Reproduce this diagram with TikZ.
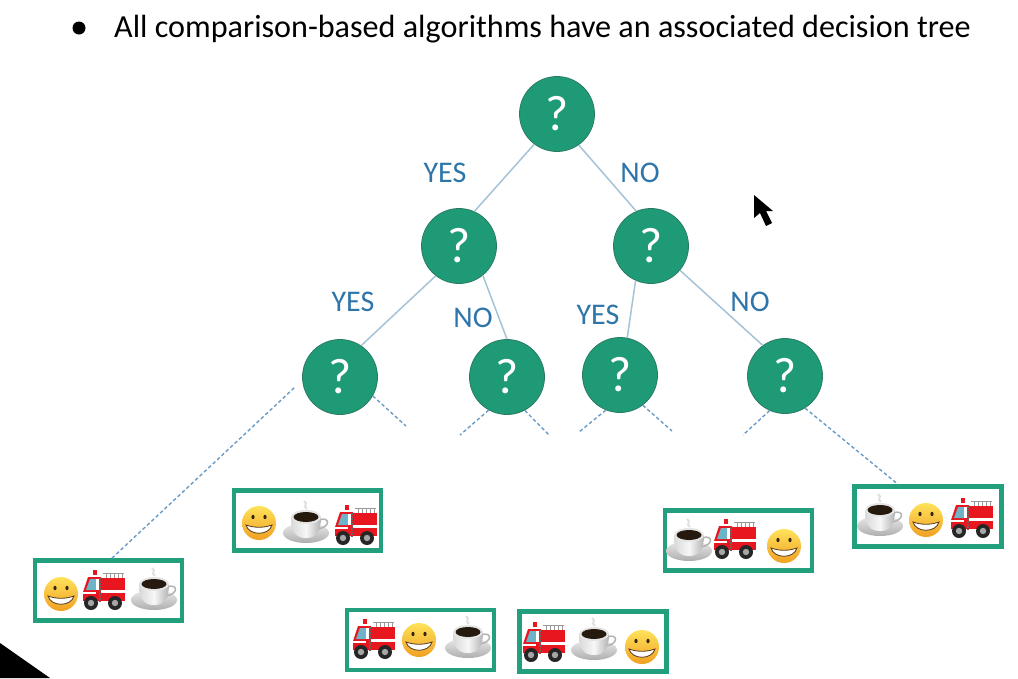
\documentclass[tikz,border=0pt]{standalone}
\usepackage{fontspec}
\setmainfont{Carlito}
\definecolor{nodegreen}{RGB}{30,155,118}
\definecolor{nodeedge}{RGB}{42,122,98}
\definecolor{boxgreen}{RGB}{34,160,125}
\definecolor{edgeblue}{RGB}{165,195,215}
\definecolor{stubblue}{RGB}{105,155,200}
\definecolor{labelblue}{RGB}{46,117,170}
\definecolor{truckred}{RGB}{232,22,30}
\definecolor{facetop}{RGB}{255,226,90}
\definecolor{facebottom}{RGB}{240,160,35}
\definecolor{cabglass}{RGB}{110,180,200}
\tikzset{
    question/.style={circle, draw=nodeedge, thick, fill=nodegreen, text=white, minimum size=75pt, inner sep=0pt, font=\fontsize{50}{50}\selectfont},
    answer/.style={font=\fontsize{30}{30}\selectfont, text=labelblue, inner sep=0pt},
    orderbox/.style={rectangle, draw=boxgreen, line width=4.5pt, minimum width=147pt, minimum height=60pt, inner sep=0pt},
    branch/.style={draw=edgeblue, line width=1.5pt},
    stub/.style={draw=stubblue, line width=1.4pt, dash pattern=on 3.5pt off 2.5pt},
    pics/smiley/.style={code={
        \shade[top color=facetop, bottom color=facebottom] (0,0) circle (17);
        \fill[black!70!brown] (-6,-6) ellipse [x radius=1.6, y radius=2.2];
        \fill[black!70!brown] (6,-6) ellipse [x radius=1.6, y radius=2.2];
        \draw[fill=white, draw=black!55!brown, line width=.8pt] (-13,2) .. controls (-5,5) and (5,5) .. (13,2) .. controls (10,13) and (-10,13) .. (-13,2) -- cycle;
    }},
    pics/firetruck/.style={code={
        \draw[black!40, line width=1pt] (-1,-17) -- (20,-17);
        \foreach \lx in {2,6,10,14,18} {\draw[black!40, line width=.8pt] (\lx,-17) -- (\lx,-12);}
        \fill[truckred] (-3,-12) -- (21,-12) -- (21,11) -- (-3,11) -- cycle;
        \fill[truckred] (-21,2) -- (-16,-13) -- (-3,-13) -- (-3,11) -- (-21,11) -- cycle;
        \fill[cabglass] (-18,0) -- (-14,-11) -- (-8,-11) -- (-8,0) -- cycle;
        \fill[white] (-8,-11) rectangle (-5,0);
        \fill[white] (-3,0) rectangle (21,3);
        \fill[white] (-21,2) rectangle (-8,4);
        \fill[truckred] (-11,-20) rectangle (-7,-15);
        \draw[black!60, line width=2pt, dash pattern=on 1.5pt off 1pt] (-4,-12) -- (-4,12);
        \foreach \wx in {-13,11} {
            \fill[black!85] (\wx,13) circle (7);
            \fill[black!35] (\wx,13) circle (3.2);
        }
    }},
    pics/coffee/.style={code={
        \shade[top color=black!8, bottom color=black!32] (0,11) ellipse [x radius=23, y radius=10];
        \draw[black!30, line width=1.5pt] (13,-2) .. controls (24,-6) and (25,5) .. (12,7);
        \shade[left color=black!15, right color=black!30, middle color=black!3] (-15,-5) .. controls (-15,10) and (-10,16) .. (0,16) .. controls (10,16) and (15,10) .. (15,-5) -- cycle;
        \fill[black!10] (0,-5) ellipse [x radius=15, y radius=7];
        \fill[black!80!brown] (0,-5) ellipse [x radius=12.5, y radius=5];
        \draw[black!12, line width=2pt] (-2,-21) .. controls (3,-18) and (-4,-16) .. (1,-13);
    }}
}
\begin{document}
\begin{tikzpicture}[x=1pt,y=-1pt]
    \useasboundingbox (0,0) rectangle (1018,678);
    % heading
    \node[circle, fill=black, minimum size=13pt, inner sep=0pt] (dot) at (79,28) {};
    \node[anchor=west, inner sep=0pt, font=\fontsize{32.15}{32}\selectfont] (heading) at (114,29.5) {All comparison-based algorithms have an associated decision tree};
    % tree
    \node[question] (qroot) at (557,114) {?};
    \node[question] (qy) at (459,246) {?};
    \node[question] (qn) at (651,246) {?};
    \node[question] (qyy) at (340,377) {?};
    \node[question] (qyn) at (507,377) {?};
    \node[question] (qny) at (620,375) {?};
    \node[question] (qnn) at (785,376) {?};
    \draw[branch] (qroot.-127) -- (qy.66);
    \draw[branch] (qroot.-55) -- (qn.113);
    \draw[branch] (qy.-128) -- (qyy.56);
    \draw[branch] (qy.-51) -- (qyn.90);
    \draw[branch] (qn.-114) -- (qny.79);
    \draw[branch] (qn.-40) -- (qnn.126);
    \node[answer] (a1) at (445,173) {YES};
    \node[answer] (a2) at (640,173) {NO};
    \node[answer] (a3) at (353,302) {YES};
    \node[answer] (a4) at (473,318) {NO};
    \node[answer] (a5) at (598,315) {YES};
    \node[answer] (a6) at (750,302) {NO};
    % leaves
    \node[orderbox] (box1) at (108.5,590.5) {};
    \node[orderbox] (box2) at (307.5,520.5) {};
    \node[orderbox] (box3) at (420.5,640) {};
    \node[orderbox] (box4) at (593,641.5) {};
    \node[orderbox] (box5) at (738.5,540.5) {};
    \node[orderbox] (box6) at (928,516.5) {};
    \pic at (61,594) {smiley};
    \pic at (104,590) {firetruck};
    \pic at (154,589) {coffee};
    \pic at (259,523) {smiley};
    \pic at (306,522) {coffee};
    \pic at (356,525) {firetruck};
    \pic at (374,639) {firetruck};
    \pic at (419,640) {smiley};
    \pic at (468,637) {coffee};
    \pic at (544,642) {firetruck};
    \pic at (594,639) {coffee};
    \pic at (642,647) {smiley};
    \pic at (689,540) {coffee};
    \pic at (735,539) {firetruck};
    \pic at (784,546) {smiley};
    \pic at (880,515) {coffee};
    \pic at (926,520) {smiley};
    \pic at (972,518) {firetruck};
    % elided parts of the tree
    \coordinate (s1) at (406,426);
    \coordinate (s2) at (460,435);
    \coordinate (s3) at (550,436);
    \coordinate (s4) at (579,432);
    \coordinate (s5) at (672,431);
    \coordinate (s6) at (743,435);
    \draw[stub, shorten <=11pt] (qyy.185) -- (box1.84);
    \draw[stub] (qyy.-30) -- (s1);
    \draw[stub] (qyn.-119) -- (s2);
    \draw[stub] (qyn.-62) -- (s3);
    \draw[stub] (qny.-112) -- (s4);
    \draw[stub] (qny.-53) -- (s5);
    \draw[stub] (qnn.-114) -- (s6);
    \draw[stub] (qnn.-58) -- (box6.133);
    % pointer and corner
    \fill[black] (754,195) -- (754,218) -- (760,213) -- (766,226) -- (772,223) -- (766,211) -- (773,211) -- cycle;
    \fill[black] (0,643) -- (50,678) -- (0,678) -- cycle;
\end{tikzpicture}
\end{document}
